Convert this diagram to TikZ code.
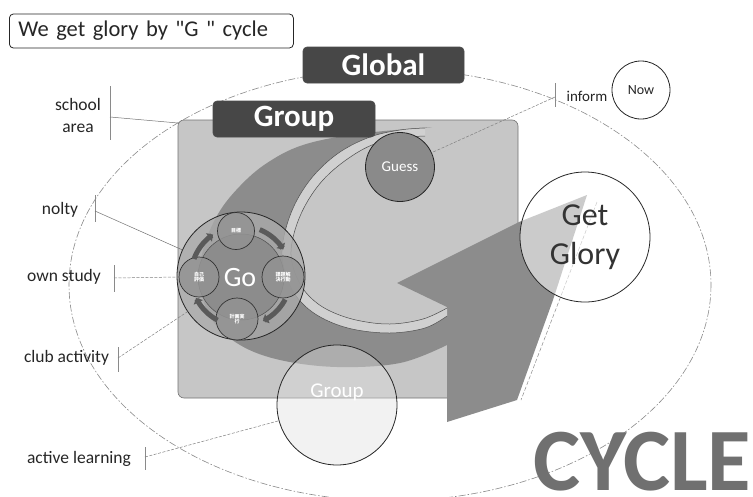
\documentclass[tikz,border=0pt]{standalone}
\usepackage{fontspec}
\setmainfont{Carlito}[Ligatures=TeXOff]
\newfontfamily\jpfont{Noto Sans CJK JP}
\usetikzlibrary{arrows.meta}
\definecolor{rectc}{HTML}{C6C6C6}
\definecolor{bandc}{HTML}{8C8C8C}
\definecolor{stripc}{HTML}{D0D0D0}
\definecolor{boxc}{HTML}{474747}
\definecolor{guessc}{HTML}{8A8A8A}
\definecolor{ringc}{HTML}{ABABAB}
\definecolor{innerc}{HTML}{8A8A8A}
\definecolor{smallc}{HTML}{939393}
\definecolor{arrc}{HTML}{5A5A5A}
\definecolor{linec}{HTML}{8A8A8A}
\definecolor{cyclec}{HTML}{707070}
\begin{document}
\begin{tikzpicture}[x=1pt,y=-1pt,
  lbl/.style={font=\fontsize{17.5}{22}\selectfont, text=black!85, inner sep=0pt},
  tickline/.style={draw=linec, line width=0.5pt},
  conn/.style={draw=black!55, line width=0.5pt},
  dconn/.style={draw=black!50, line width=0.5pt, dash pattern=on 3pt off 1.5pt},
  darkbox/.style={rectangle, rounded corners=4pt, fill=boxc, draw=black!70, line width=0.6pt,
    minimum height=36pt, text=white, font=\bfseries\fontsize{31}{31}\selectfont, inner sep=0pt},
  ringc1/.style={circle, draw=black!85, line width=0.8pt, inner sep=0pt},
  smallcirc/.style={circle, draw=black!80, line width=0.7pt, fill=smallc, fill opacity=0.85,
    text opacity=1, text=white, inner sep=0pt, align=center,
    font=\jpfont\bfseries\fontsize{5}{5.5}\selectfont},
  cyc/.style={draw=arrc, line width=5pt, -{Triangle[length=5pt,width=10pt]}}
]
\useasboundingbox (0,0) rectangle (753,496);
\fill[white] (0,0) rectangle (753,496);

% big dashed ellipse
\draw[linec, line width=0.6pt, dash pattern=on 7pt off 2pt on 1.5pt off 2pt]
  (390,285) ellipse [x radius=321, y radius=216];

% grey panel
\node[rectangle, rounded corners=6pt, fill=rectc, draw=black!55, line width=0.6pt,
  minimum width=340pt, minimum height=278pt, inner sep=0pt] (panel) at (348,259) {};

% curved band with arrow head
\fill[bandc] plot[smooth, tension=0.6] coordinates {(432,127) (357,134) (303,145) (267,163)
   (240,186) (218,214) (203,250) (200,285) (212,320) (240,345) (280,360) (337,367) (400,363) (447,345)}
  -- (447,422) -- (517,400) -- (553,300) -- (587,195) -- (519,222) -- (397,283) -- (447,307)
  -- plot[smooth, tension=0.6] coordinates {(447,316) (425,328) (390,333) (352,329) (322,318)
   (301,302) (288,281) (282,255) (286,228) (297,200) (315,174) (340,152) (370,137) (400,130) (425,128)}
  -- cycle;
% light strip
\fill[stripc] plot[smooth, tension=0.6] coordinates {(447,316) (425,328) (390,333) (352,329) (322,318)
   (301,302) (288,281) (282,255) (286,228) (297,200) (315,174) (340,152) (370,137) (400,130) (425,128)}
  -- plot[smooth, tension=0.6] coordinates {(425,136) (400,138) (372,145) (346,160) (323,180)
   (306,204) (295,230) (291,255) (297,278) (309,296) (328,310) (356,320) (390,324) (423,319) (447,308)}
  -- cycle;
\draw[black!70, line width=0.5pt] plot[smooth, tension=0.6] coordinates {(447,316) (425,328) (390,333) (352,329) (322,318)
   (301,302) (288,281) (282,255) (286,228) (297,200) (315,174) (340,152) (370,137) (400,130) (425,128)};
\draw[black!70, line width=0.5pt] plot[smooth, tension=0.6] coordinates {(425,136) (400,138) (372,145) (346,160) (323,180)
   (306,204) (295,230) (291,255) (297,278) (309,296) (328,310) (356,320) (390,324) (423,319) (447,308)};

% faint dashed shadow line by the arrow
\draw[linec, line width=0.5pt, dash pattern=on 4pt off 2pt] (597,202) -- (521,400);

% title boxes
\node[darkbox, minimum width=161pt] (global) at (383.5,65) {Global};
\node[darkbox, minimum width=162pt] (group) at (294,119) {Group};

% Guess
\node[ringc1, fill=guessc, minimum size=69pt, text=white, font=\fontsize{15}{18}\selectfont] (guess) at (400,167) {Guess};

% Go cluster
\node[ringc1, fill=ringc, fill opacity=0.8, minimum size=128pt] (go) at (241,276) {};
\node[circle, draw=black!70, line width=0.5pt, fill=innerc, fill opacity=0.9, minimum size=86pt, inner sep=0pt] (goin) at (241,277) {};
\node[smallcirc, minimum size=37pt] (s1) at (236,231) {目標};
\node[smallcirc, minimum size=40pt] (s2) at (199,277) {自己\\評価};
\node[smallcirc, minimum size=42pt] (s3) at (283,277) {課題解\\決行動};
\node[smallcirc, minimum size=42pt] (s4) at (237,319) {計画実\\行};
\node[text=white, font=\fontsize{28}{28}\selectfont, inner sep=0pt] (gotext) at (240,278) {Go};
\draw[cyc] plot[domain=160:124, samples=20, variable=\t] ({241+50*cos(\t)},{276-50*sin(\t)});
\draw[cyc] plot[domain=68:32, samples=20, variable=\t] ({241+50*cos(\t)},{276-50*sin(\t)});
\draw[cyc] plot[domain=-28:-64, samples=20, variable=\t] ({241+50*cos(\t)},{276-50*sin(\t)});
\draw[cyc] plot[domain=-118:-154, samples=20, variable=\t] ({241+50*cos(\t)},{276-50*sin(\t)});

% Get Glory
\node[ringc1, fill=white, fill opacity=0.55, text opacity=1, minimum size=130pt, align=center,
  font=\fontsize{32}{39}\selectfont, text=black!80] (glory) at (585,237) {Get\\Glory};

% bottom Group circle
\node[ringc1, fill=gray!25, fill opacity=0.4, minimum size=120pt] (group2) at (337,405) {};
\node[text=white, font=\fontsize{21}{21}\selectfont, inner sep=0pt] (group2t) at (337,392) {Group};

% Now circle
\node[ringc1, minimum size=58pt, font=\fontsize{14}{16}\selectfont, text=black!85] (now) at (641,90) {Now};
\node[font=\fontsize{15}{18}\selectfont, text=black!85, inner sep=0pt] (inform) at (587,96) {inform};

% side labels
\node[lbl, align=center] (school) at (78,115) {school\\area};
\node[lbl] (nolty) at (60,210) {nolty};
\node[lbl] (own) at (64,277) {own study};
\node[lbl] (club) at (66.5,358) {club activity};
\node[lbl] (active) at (79,459) {active learning};

% ticks
\draw[tickline] (110,86) -- (110,140);
\draw[tickline] (95,195) -- (95,222);
\draw[tickline] (114,265) -- (114,292);
\draw[tickline] (118,347) -- (118,372);
\draw[tickline] (145,447) -- (145,470);
\draw[tickline] (555,83) -- (555,107);
\coordinate (tSchool) at (110,117);
\coordinate (tNolty) at (95,211);
\coordinate (tOwn) at (114,278);
\coordinate (tClub) at (118,358);
\coordinate (tActive) at (145,457);
\coordinate (tInform) at (555,97);
\coordinate (rectTL) at (178,123);

% connectors
\draw[conn] (tSchool) -- (rectTL);
\draw[conn] (tNolty) -- (go);
\draw[dconn] (tOwn) -- (go);
\draw[dconn] (tClub) -- (go);
\draw[dconn] (tActive) -- (group2);
\draw[dconn] (tInform) -- (guess);

% CYCLE
\node[anchor=base west, font=\bfseries\fontsize{89}{89}\selectfont, text=cyclec, inner sep=0pt] (cycle) at (533,490) {CYCLE};

% title
\node[draw=black!85, rounded corners=4pt, line width=0.8pt, anchor=west, inner xsep=9pt,
  text width=266pt, minimum height=34pt, font=\fontsize{22.5}{26}\selectfont, text=black!85] (title) at (9,31) {We get glory by "G " cycle};
\end{tikzpicture}
\end{document}
